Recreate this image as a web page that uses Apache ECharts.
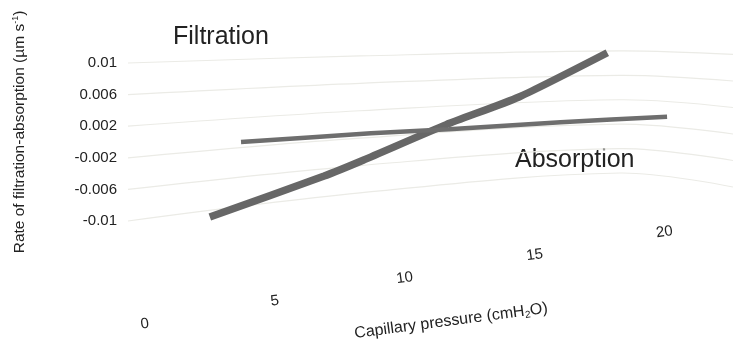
<!DOCTYPE html>
<html>
<head>
<meta charset="utf-8">
<script src="https://cdn.jsdelivr.net/npm/echarts@6/dist/echarts.min.js"></script>
<style>
html, body { margin: 0; padding: 0; background: #fff; }
#chart { width: 733px; height: 344px; }
</style>
</head>
<body>
<div id="chart"></div>
<script>
// capillary pressure ticks (cmH2O)
var pressureTicks = [0, 5, 10, 15, 20];
// rate ticks (µm/s)
var rateTicks = [-0.01, -0.006, -0.002, 0.002, 0.006, 0.01];

// [pressure, rate]
var rateSteep = [[2.5, -0.0095], [6.9, -0.0043], [8.4, -0.0023], [11.6, 0.0022], [14.4, 0.0057], [17.8, 0.0113]];
var rateFlat = [[3.7, 0.0], [8.7, 0.0011], [11.7, 0.0016], [16.0, 0.0025], [20.1, 0.0032]];

var FONT = 'Liberation Sans, Arial, Helvetica, sans-serif';
// the pressure labels sit on a slanted floor line
var LABEL_X0 = 145, LABEL_Y0 = 324, LABEL_SLOPE = -0.177;
// back wall gridlines converge towards a horizon (perspective look)
var WALL_HORIZON = 10;
var WALL_X = [128, 360, 620, 733];
var WALL_SCALE = [1, 0.867, 0.7725, 0.839];

var chart = echarts.init(document.getElementById('chart'));

var option = {
    animation: false,
    grid: { left: 128, right: 8, top: 63, bottom: 123 },
    xAxis: { type: 'value', min: -0.65, max: 22.33, show: false },
    yAxis: {
        type: 'value',
        min: -0.01,
        max: 0.01,
        interval: 0.004,
        axisLine: { show: false },
        axisTick: { show: false },
        axisLabel: {
            margin: 11,
            fontSize: 15,
            color: '#222',
            fontFamily: FONT,
            formatter: function (v) { return String(+v.toFixed(3)); }
        },
        splitLine: { show: false }
    },
    graphic: [
        {
            type: 'text', x: 173, y: 37,
            style: { text: 'Filtration', fontSize: 25, fontFamily: FONT, fill: '#222', textAlign: 'left', textVerticalAlign: 'middle' }
        },
        {
            type: 'text', x: 515, y: 160,
            style: { text: 'Absorption', fontSize: 25, fontFamily: FONT, fill: '#222', textAlign: 'left', textVerticalAlign: 'middle' }
        },
        {
            type: 'text', x: 20, y: 132, rotation: Math.PI / 2,
            style: {
                text: 'Rate of filtration-absorption (µm s{sup|-1})',
                fontSize: 15.5, fontFamily: FONT, fill: '#222', lineHeight: 18,
                textAlign: 'center', textVerticalAlign: 'middle',
                rich: { sup: { fontSize: 9, fontFamily: FONT, fill: '#222', verticalAlign: 'top', lineHeight: 18 } }
            }
        },
        {
            type: 'text', x: 451, y: 321, rotation: 7.5 * Math.PI / 180,
            style: {
                text: 'Capillary pressure (cmH{sub|2}O)',
                fontSize: 16, fontFamily: FONT, fill: '#222', lineHeight: 18,
                textAlign: 'center', textVerticalAlign: 'middle',
                rich: { sub: { fontSize: 10, fontFamily: FONT, fill: '#222', verticalAlign: 'bottom', lineHeight: 18 } }
            }
        }
    ],
    series: [
        {
            // faint wall gridlines
            type: 'custom',
            data: rateTicks.map(function (v) { return [0, v]; }),
            clip: false,
            silent: true,
            z: 1,
            renderItem: function (params, api) {
                var yLeft = api.coord([0, api.value(1)])[1];
                var pts = WALL_X.map(function (x, i) {
                    return [x, WALL_HORIZON + (yLeft - WALL_HORIZON) * WALL_SCALE[i]];
                });
                return {
                    type: 'polyline',
                    shape: { points: pts, smooth: 0.35 },
                    style: { fill: null, stroke: '#ebebe6', lineWidth: 1.2 }
                };
            }
        },
        {
            type: 'line',
            data: rateSteep,
            showSymbol: false,
            smooth: 0.2,
            clip: false,
            z: 2,
            lineStyle: { color: '#676767', width: 7.5, cap: 'butt' }
        },
        {
            type: 'line',
            data: rateFlat,
            showSymbol: false,
            smooth: 0.2,
            clip: false,
            z: 3,
            lineStyle: { color: '#6e6e6e', width: 4.5, cap: 'butt' }
        },
        {
            type: 'custom',
            data: pressureTicks.map(function (v) { return [v, -0.01]; }),
            clip: false,
            silent: true,
            renderItem: function (params, api) {
                var v = api.value(0);
                var p = api.coord([v, api.value(1)]);
                return {
                    type: 'text',
                    x: p[0],
                    y: LABEL_Y0 + (p[0] - LABEL_X0) * LABEL_SLOPE,
                    rotation: 8 * Math.PI / 180,
                    style: { text: String(v), fontSize: 15, fontFamily: FONT, fill: '#222', align: 'center', verticalAlign: 'middle' }
                };
            }
        }
    ]
};

option && chart.setOption(option);
</script>
</body>
</html>
